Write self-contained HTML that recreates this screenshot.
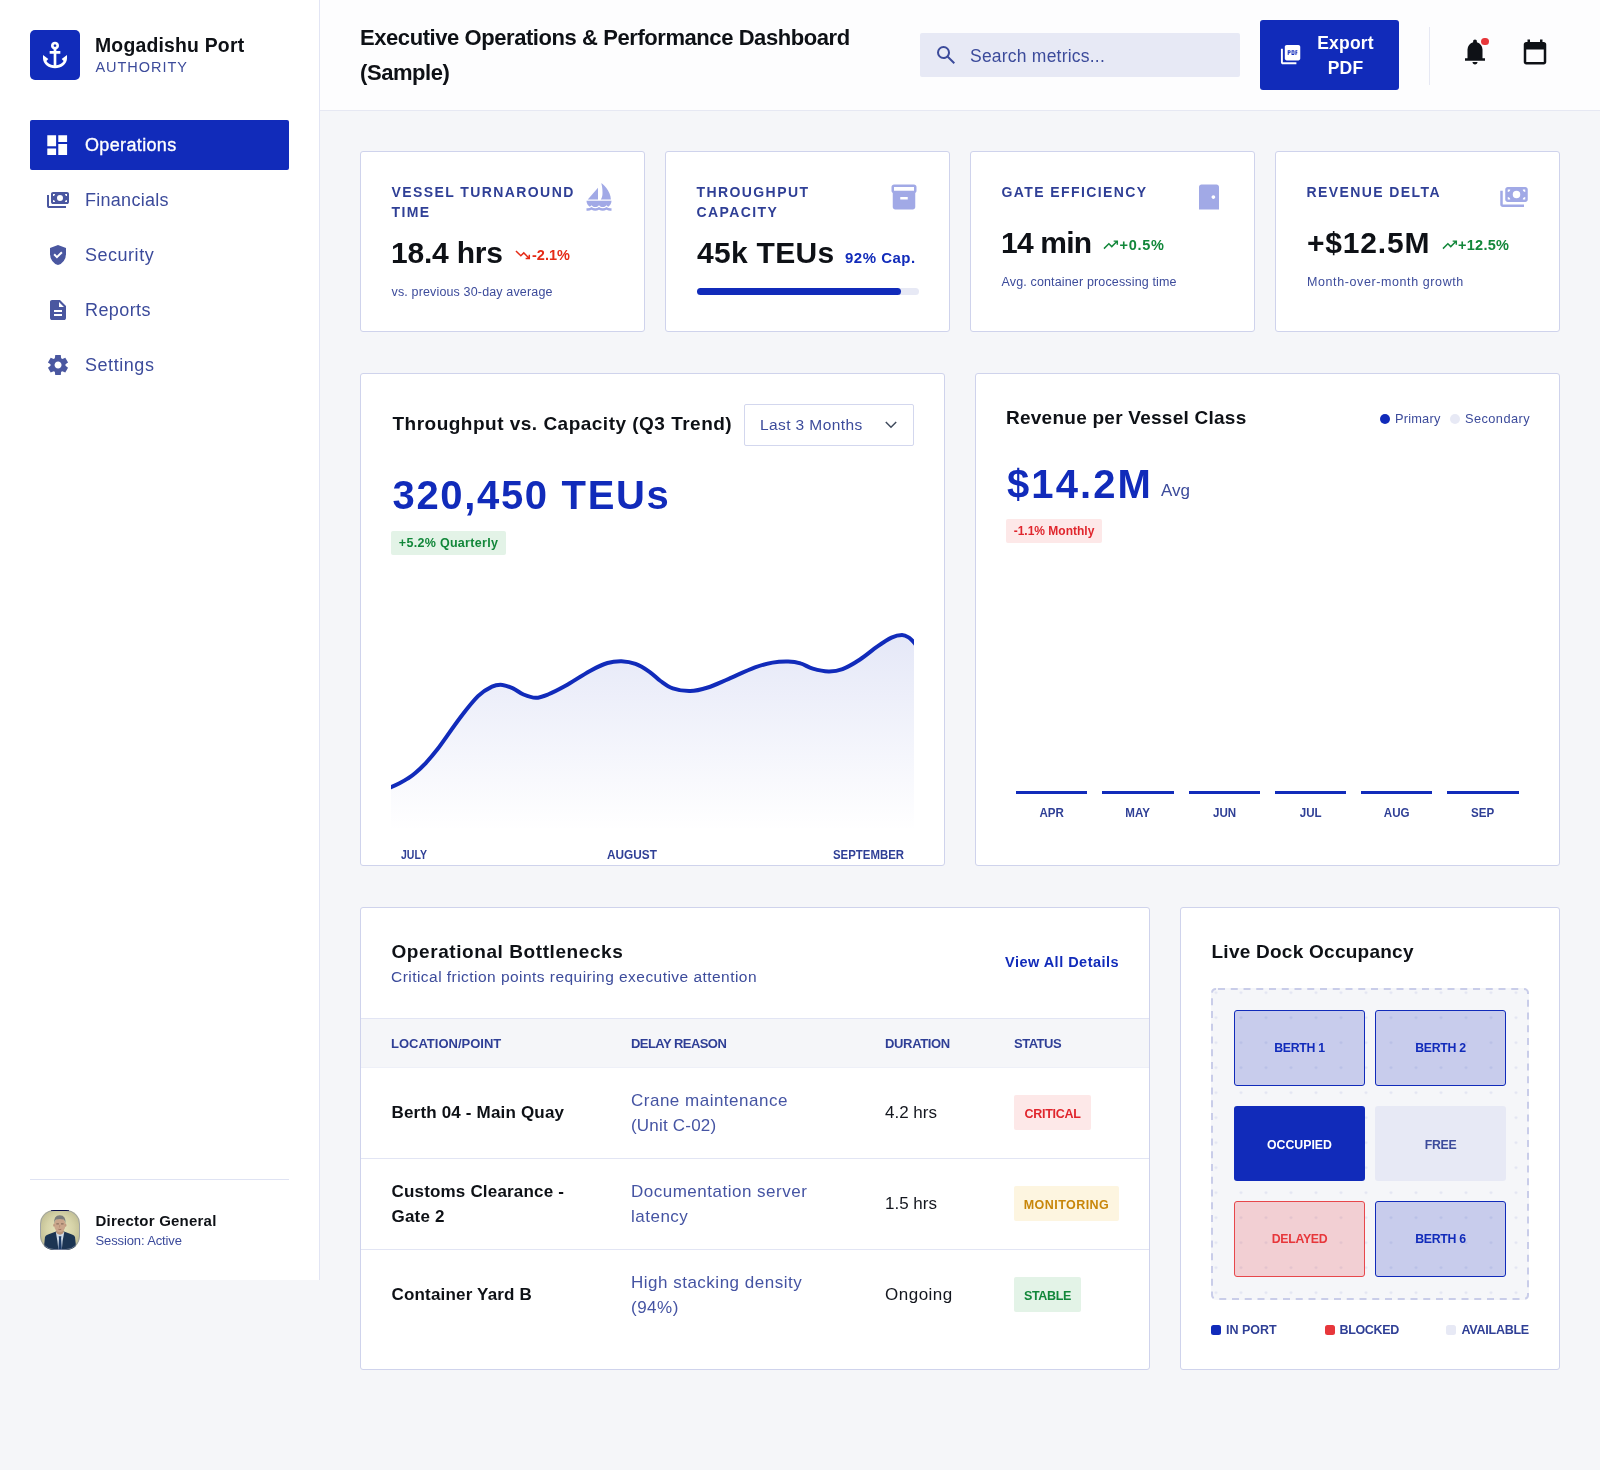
<!DOCTYPE html>
<html lang="en">
<head>
<meta charset="utf-8">
<title>Executive Operations &amp; Performance Dashboard</title>
<style>
*{box-sizing:border-box;margin:0;padding:0}
html,body{width:1600px;height:1470px;overflow:hidden}
html{background:#f5f6f9}
body{opacity:.9999}
body{font-family:"Liberation Sans",sans-serif;background:#f5f6f9;color:#0e1116;position:relative}
.abs{position:absolute}
/* sidebar */
#side{position:absolute;left:0;top:0;width:320px;height:1280px;background:#fff;border-right:1px solid #e2e5f4}
#logo{position:absolute;left:30px;top:30px;width:50px;height:50px;background:#112bba;border-radius:5px}
#brand{position:absolute;left:95px;top:33px;font-weight:700;font-size:19.4px;line-height:24px;color:#0e1116;letter-spacing:.2px;white-space:nowrap}
#brand2{position:absolute;left:95.500px;top:58px;font-size:14.5px;line-height:18px;color:#3c4b9b;letter-spacing:.95px;white-space:nowrap}
.nav{position:absolute;left:30px;width:259px;height:50px;border-radius:2px;color:#3c4b9b;font-size:18px;line-height:50px;white-space:nowrap}
.nav span{position:absolute;left:55px;top:0;letter-spacing:.35px}
.nav.on span{-webkit-text-stroke:.35px #fff}
.nav svg{position:absolute;left:15.500px;top:13px;width:24px;height:24px;fill:#4a57a0}
.nav.on svg{left:14.300px;top:11.800px;width:26.400px;height:26.400px}
.nav.on{background:#112bba;color:#fff}
.nav.on svg{fill:#fff}
#sidehr{position:absolute;left:30px;top:1179px;width:259px;height:1px;background:#dfe3f3}
#avatar{position:absolute;left:40px;top:1210px;width:40px;height:40px;border-radius:14px;overflow:hidden}
#uname{position:absolute;left:95.500px;top:1211px;font-weight:700;font-size:15px;line-height:20px;color:#0e1116;white-space:nowrap;letter-spacing:.22px}
#usub{position:absolute;left:95.500px;top:1233px;font-size:13px;line-height:16px;color:#3c4b9b;white-space:nowrap;letter-spacing:-.12px}
/* header */
#head{position:absolute;left:320px;top:0;width:1280px;height:111px;background:#fdfdfe;border-bottom:1px solid #e6e8f3}
#title{position:absolute;left:40px;top:20px;font-weight:700;font-size:22px;line-height:35px;color:#0e1116;letter-spacing:-.43px;white-space:nowrap}
#search{position:absolute;left:600px;top:33px;width:320px;height:44px;background:#e7e9f5;border-radius:2px}
#search span{position:absolute;left:50px;top:.500px;line-height:44px;font-size:17.5px;color:#3c4b9b;letter-spacing:.22px;white-space:nowrap}
#export{position:absolute;left:940px;top:20px;width:138.500px;height:70px;background:#112bba;border-radius:3px;color:#fff;font-weight:700;font-size:17.5px;line-height:25px;text-align:center;letter-spacing:.2px}
#export div{position:absolute;left:46px;top:10.500px;width:79px}
#hsep{position:absolute;left:1109px;top:27px;width:1px;height:58px;background:#e6e8f3}
/* cards */
.card{position:absolute;background:#fff;border:1px solid #cfd3ec;border-radius:3px}
.kpi{top:151px;width:285px;height:181px}
.kpi>*{margin-top:1px}
.klabel{position:absolute;left:30.500px;top:29px;font-weight:700;font-size:14px;line-height:20px;color:#2f3f96;letter-spacing:1.410px;white-space:nowrap}
.kval{position:absolute;left:30px;font-weight:700;font-size:30px;line-height:36px;color:#0e1116;white-space:nowrap}
.kdelta{position:absolute;font-weight:700;font-size:14.5px;line-height:18px;white-space:nowrap}
.ksub{position:absolute;left:30.500px;font-size:12.5px;line-height:16px;color:#3c4b9b;white-space:nowrap;letter-spacing:.15px}
.kicon{position:absolute;left:222.800px;top:29.200px;width:30px;height:30px;fill:#a1a9e6}
.tr{position:absolute;width:17.500px;height:17.500px;margin:.25px}
.kpi>.tr{margin-top:1.250px}
.ctitle{position:absolute;font-weight:700;font-size:19px;line-height:24px;color:#0e1116;white-space:nowrap;letter-spacing:.25px}
.big{position:absolute;font-weight:700;color:#112bba;white-space:nowrap}
.pill{position:absolute;font-weight:700;font-size:12.5px;letter-spacing:.3px;line-height:24px;height:24px;border-radius:2px;white-space:nowrap;text-align:center}
.axis{position:absolute;font-size:13.5px;line-height:14px;transform-origin:0 50%;color:#2f3f96;font-weight:700;white-space:nowrap;text-align:center}
.lg{position:absolute;top:37.300px;font-size:12.8px;line-height:16px;color:#3c4b9b;white-space:nowrap;letter-spacing:.2px}
.th{position:absolute;top:126.600px;font-size:13px;font-weight:700;line-height:18px;color:#2f3f96;letter-spacing:0;white-space:nowrap}
.td1{position:absolute;left:30.500px;font-size:17px;font-weight:700;line-height:25px;color:#0e1116;white-space:nowrap;letter-spacing:.18px}
.td2{position:absolute;left:270px;font-size:17px;line-height:25px;color:#4554a3;white-space:nowrap;letter-spacing:.5px}
.td3{position:absolute;left:524px;font-size:17px;line-height:25px;color:#14171f;white-space:nowrap}
.st{position:absolute;left:653px;height:35px;line-height:38px;border-radius:2px;font-size:12.5px;font-weight:700;text-align:center;letter-spacing:.45px;white-space:nowrap}
.hr{position:absolute;left:0;width:788px;height:1px;background:#e2e5f4}
.cell{position:absolute;width:131px;height:76px;line-height:76px;text-align:center;font-size:12.3px;font-weight:700;border-radius:3px;white-space:nowrap;letter-spacing:-.28px}
.cell.bl{background:rgba(18,41,185,.2);border:1px solid #112bba;color:#112bba;line-height:75.200px}
.sq{position:absolute;top:417px;width:10px;height:10px;border-radius:2.500px}
.lgd{position:absolute;top:413px;font-size:12.5px;font-weight:700;line-height:18px;color:#2f3f96;white-space:nowrap;letter-spacing:0}
</style>
</head>
<body>

<div id="side">
  <div id="logo"><svg viewBox="0 0 24 24" style="position:absolute;left:9px;top:9px;width:32px;height:32px;fill:#fff"><path d="M12 22q-1.725 0-3.338-.6t-2.887-1.612Q4.5 18.775 3.75 17.4T3 14.5V12l4 3-1.45 1.45q.6 1.125 2.063 2.038T11 19.75V11H8V9h3V7.825q-.875-.325-1.438-1.087T9 5q0-1.25.875-2.125T12 2q1.25 0 2.125.875T15 5q0 .975-.563 1.738T13 7.825V9h3v2h-3v8.75q1.925-.35 3.388-1.263T18.45 16.45L17 15l4-3v2.5q0 1.525-.75 2.9t-2.025 2.388Q16.95 20.8 15.338 21.4T12 22Zm0-16q.425 0 .713-.288T13 5q0-.425-.288-.713T12 4q-.425 0-.713.288T11 5q0 .425.288.713T12 6Z"/></svg></div>
  <div id="brand">Mogadishu Port</div>
  <div id="brand2">AUTHORITY</div>

  <div class="nav on" style="top:120px"><svg viewBox="0 0 24 24"><path d="M13 9V3h8v6h-8ZM3 13V3h8v10H3Zm10 8V11h8v10h-8ZM3 21v-6h8v6H3Z"/></svg><span>Operations</span></div>
  <div class="nav" style="top:175px"><svg viewBox="0 0 24 24"><path fill-rule="evenodd" d="M7 4h14q.83 0 1.41.59T23 6v8q0 .83-.59 1.41T21 16H7q-.83 0-1.41-.59T5 14V6q0-.83.59-1.41T7 4Zm7 3a3 3 0 1 0 0 6a3 3 0 1 0 0-6ZM7 6v2q.83 0 1.41-.59T9 6H7Zm12 0q0 .83.59 1.41T21 8V6h-2ZM7 12v2h2q0-.83-.59-1.41T7 12Zm14 0q-.83 0-1.41.59T19 14h2v-2ZM1 7h2v11h17v2H3q-.83 0-1.41-.59T1 18V7Z"/></svg><span style="letter-spacing:.27px">Financials</span></div>
  <div class="nav" style="top:230px"><svg viewBox="0 0 24 24"><path d="m10.95 15.55 5.65-5.65-1.425-1.425L10.95 12.7l-2.1-2.1-1.425 1.425 3.525 3.525ZM12 22q-3.475-.875-5.738-3.988T4 11.1V5l8-3 8 3v6.1q0 3.8-2.263 6.913T12 22Z"/></svg><span style="letter-spacing:.52px">Security</span></div>
  <div class="nav" style="top:285px"><svg viewBox="0 0 24 24"><path d="M8 18h8v-2H8v2Zm0-4h8v-2H8v2Zm-2 8q-.825 0-1.413-.588T4 20V4q0-.825.588-1.413T6 2h8l6 6v12q0 .825-.588 1.413T18 22H6Zm7-13h5l-5-5v5Z"/></svg><span style="letter-spacing:.41px">Reports</span></div>
  <div class="nav" style="top:340px"><svg viewBox="0 0 24 24"><path d="m9.25 22-.4-3.2q-.325-.125-.613-.3t-.562-.375L4.7 19.375l-2.75-4.75 2.575-1.95Q4.5 12.5 4.5 12.338v-.675q0-.163.025-.338L1.95 9.375l2.75-4.75 2.975 1.25q.275-.2.575-.375t.6-.3l.4-3.2h5.5l.4 3.2q.325.125.613.3t.562.375l2.975-1.25 2.75 4.75-2.575 1.95q.025.175.025.338v.675q0 .163-.05.338l2.575 1.95-2.75 4.75-2.95-1.25q-.275.2-.575.375t-.6.3l-.4 3.2h-5.5Zm2.8-6.5q1.45 0 2.475-1.025T15.55 12q0-1.45-1.025-2.475T12.05 8.5q-1.475 0-2.488 1.025T8.55 12q0 1.45 1.013 2.475T12.05 15.5Z"/></svg><span style="letter-spacing:.55px">Settings</span></div>

  <div id="sidehr"></div>
  <div id="avatar"><svg viewBox="0 0 40 40" width="40" height="40" style="display:block">
<defs><radialGradient id="avb" cx="50%" cy="48%" r="62%"><stop offset="0" stop-color="#e9e7bf"/><stop offset=".55" stop-color="#d6d3a8"/><stop offset="1" stop-color="#b9b68c"/></radialGradient>
<filter id="avf" x="-10%" y="-10%" width="120%" height="120%"><feGaussianBlur stdDeviation=".45"/></filter></defs>
<rect width="40" height="40" fill="url(#avb)"/>
<g filter="url(#avf)">
<path d="M3.500 41 L5 27 Q5.500 25.300 8 24.600 L16 21.400 L24 21.400 L32 24.600 Q34.500 25.300 35 27 L36.500 41 Z" fill="#1f3552"/>
<path d="M15.800 22 L24.300 22 L22.600 31 L21.800 40 L18.400 40 L17.400 31 Z" fill="#cfdbe7"/>
<path d="M18.700 26.200 L21.400 26.200 L21.100 28.400 L21.900 40 L18.300 40 L19 28.400 Z" fill="#1c3b68"/>
<path d="M16.300 17 L16.300 23 Q20 26.500 23.500 23 L23.500 17 Z" fill="#b99378"/>
<ellipse cx="19.800" cy="15" rx="5.600" ry="7.300" fill="#caa68b"/>
<ellipse cx="14.100" cy="15.200" rx=".9" ry="1.600" fill="#c09a80"/><ellipse cx="25.500" cy="15.200" rx=".9" ry="1.600" fill="#c09a80"/>
<path d="M14.200 14 Q13.300 5.300 19.800 5.200 Q26.300 5.300 25.500 14 Q25 10.300 23.600 9.500 Q19.800 8.300 16 9.500 Q14.700 10.300 14.200 14 Z" fill="#7c7c7a"/>
<path d="M16.300 13.900h2.600M21 13.900h2.600" stroke="#5b4a40" stroke-width=".7" fill="none"/>
<path d="M18.400 19.300 Q19.800 19.900 21.300 19.300" stroke="#8e5f52" stroke-width=".7" fill="none"/>
<path d="M19.800 15 L19.500 17.500" stroke="#a98268" stroke-width=".6" fill="none"/>
</g>
<rect x=".5" y=".5" width="39" height="39" rx="13.500" fill="none" stroke="#8f96ad" stroke-opacity=".7"/>
<rect x="11" y="0" width="18" height="1" fill="#0a0f4a"/>
</svg></div>
  <div id="uname">Director General</div>
  <div id="usub">Session: Active</div>
</div>

<div id="head">
  <div id="title">Executive Operations &amp; Performance Dashboard<br>(Sample)</div>
  <div id="search"><svg viewBox="0 0 24 24" style="position:absolute;left:14px;top:10px;width:24px;height:24px;fill:#3c4b9b"><path d="m19.6 21-6.3-6.3q-.75.6-1.725.95T9.5 16q-2.725 0-4.612-1.888T3 9.5q0-2.725 1.888-4.612T9.5 3q2.725 0 4.613 1.888T16 9.5q0 1.1-.35 2.075T14.7 13.3l6.3 6.3-1.4 1.400ZM9.5 14q1.875 0 3.188-1.313T14 9.5q0-1.875-1.313-3.188T9.5 5Q7.625 5 6.313 6.313T5 9.5q0 1.875 1.313 3.188T9.5 14Z"/></svg><span>Search metrics...</span></div>
  <div id="export"><svg viewBox="0 0 24 24" style="position:absolute;left:18.900px;top:23.400px;width:23.200px;height:23.200px;fill:#fff"><path d="M8 18q-.83 0-1.41-.59T6 16V4q0-.83.59-1.41T8 2h12q.83 0 1.41.59T22 4v12q0 .83-.59 1.41T20 18H8ZM2 6h2v14h14v2H4q-.83 0-1.41-.59T2 20V6Z"/><g fill="#112bba"><path d="M9 12.5h1v-2h1q.42 0 .71-.29T12 9.5v-1q0-.42-.29-.71T11 7.500H9v5Zm1-3v-1h1v1h-1Zm3 3h2q.42 0 .71-.29T16 11.500v-3q0-.42-.29-.71T15 7.500h-2v5Zm1-1v-3h1v3h-1Zm3 1h1v-2h1v-1h-1v-1h1v-1h-2v5Z"/></g></svg><div>Export<br>PDF</div></div>
  <div id="hsep"></div>
  <svg viewBox="0 0 24 24" style="position:absolute;left:1140px;top:36.5px;width:30px;height:30px;fill:#0e1116"><path d="M4 19v-2h2v-7q0-2.075 1.25-3.688T10.500 4.200V3.500q0-.625.438-1.063T12 2q.625 0 1.063.438T13.500 3.500v.700q2 .500 3.250 2.113T18 10v7h2v2H4Zm8 3q-.825 0-1.413-.588T10 20h4q0 .825-.588 1.413T12 22Z"/></svg>
  <div style="position:absolute;left:1161.300px;top:37.700px;width:7.400px;height:7.400px;border-radius:50%;background:#e7373b"></div>
  <svg viewBox="0 0 24 24" style="position:absolute;left:1200px;top:36.5px;width:30px;height:30px;fill:#0e1116"><path d="M5 22q-.825 0-1.413-.588T3 20V6q0-.825.588-1.413T5 4h1V2h2v2h8V2h2v2h1q.825 0 1.413.588T21 6v14q0 .825-.588 1.413T19 22H5Zm0-2h14V10H5v10Z"/></svg>
</div>

<!-- KPI cards -->
<div class="card kpi" id="k1" style="left:360px">
  <div class="klabel">VESSEL TURNAROUND<br>TIME</div><svg class="kicon" viewBox="0 0 24 24"><path d="M11.200 14V4.500L3 14h8.200ZM21.500 14C21.500 7 14.500 1 13.800 1c.4 1 1 4 1 7.500s-1 5.500-1.800 5.500h8.500ZM22 15H2c0 1.900 1 3.700 2.500 4.800.5-.3 1-.7 1.500-1.300.8 1 1.900 1.500 3 1.500s2.200-.5 3-1.500c.8 1 1.900 1.500 3 1.500s2.200-.5 3-1.500c.5.600 1 1 1.500 1.300C21 18.700 22 16.900 22 15ZM22 23v-2h-1c-1 0-2.100-.350-3-1-1.800 1.300-4.200 1.300-6 0-1.800 1.300-4.200 1.300-6 0-.900.650-2 1-3 1H2v2h1c1 0 2-.250 3-.750 1.900 1 4.100 1 6 0 1.900 1 4.100 1 6 0 1 .500 2 .750 3 .750h1Z"/></svg>
  <div class="kval" style="top:82px;letter-spacing:-.2px">18.4 hrs</div>
  <svg class="tr" viewBox="0 0 24 24" style="left:152.700px;top:92.500px;fill:#e52b16"><path d="M16 18v-2h2.600l-5.200-5.150-4 4L2 7.400 3.400 6l6 6 4-4 6.600 6.600V12h2v6h-6Z"/></svg><div class="kdelta" style="left:171px;top:93px;color:#e52b16">-2.1%</div>
  <div class="ksub" style="top:131px">vs. previous 30-day average</div>
</div>
<div class="card kpi" id="k2" style="left:665px">
  <div class="klabel">THROUGHPUT<br>CAPACITY</div><svg class="kicon" viewBox="0 0 24 24"><path fill-rule="evenodd" d="M5 22q-.825 0-1.413-.588T3 20V8.725q-.45-.275-.725-.712T2 7V4q0-.825.588-1.413T4 2h16q.825 0 1.413.588T22 4v3q0 .575-.275 1.013T21 8.725V20q0 .825-.588 1.413T19 22H5ZM4 7h16V4H4v3Zm5 7h6v-2H9v2Z"/></svg>
  <div class="kval" style="top:82px;left:31px;letter-spacing:.3px">45k TEUs</div>
  <div class="kdelta" id="cap" style="left:179px;top:96px;color:#112bba;font-size:15px;letter-spacing:.5px">92% Cap.</div>
  <div style="position:absolute;left:31px;top:135px;width:222px;height:7px;border-radius:4px;background:#e7e9f5"><div style="width:204px;height:7px;border-radius:4px;background:#112bba"></div></div>
</div>
<div class="card kpi" id="k3" style="left:970px">
  <div class="klabel">GATE EFFICIENCY</div><svg class="kicon" viewBox="0 0 24 24"><path fill-rule="evenodd" d="M18 2H6c-1.100 0-2 .900-2 2v18h16V4c0-1.100-.900-2-2-2Zm-2.500 11.500c-.830 0-1.500-.670-1.500-1.500s.670-1.500 1.500-1.500 1.500.670 1.500 1.500-.670 1.500-1.500 1.500Z"/></svg>
  <div class="kval" style="top:72px;letter-spacing:-.8px">14 min</div>
  <svg class="tr" viewBox="0 0 24 24" style="left:130.300px;top:83.200px;fill:#12873a"><path d="m3.4 18-1.4-1.4 7.4-7.45 4 4L18.600 8H16V6h6v6h-2V9.400L13.400 16l-4-4-6 6Z"/></svg><div class="kdelta" style="left:148.500px;top:83px;color:#12873a;letter-spacing:.75px">+0.5%</div>
  <div class="ksub" style="top:121px">Avg. container processing time</div>
</div>
<div class="card kpi" id="k4" style="left:1275px">
  <div class="klabel">REVENUE DELTA</div><svg class="kicon" viewBox="0 0 24 24"><path fill-rule="evenodd" d="M7 4h14q.83 0 1.41.59T23 6v8q0 .83-.59 1.41T21 16H7q-.83 0-1.41-.59T5 14V6q0-.83.59-1.41T7 4Zm7 3a3 3 0 1 0 0 6a3 3 0 1 0 0-6ZM7 6v2q.83 0 1.41-.59T9 6H7Zm12 0q0 .83.59 1.41T21 8V6h-2ZM7 12v2h2q0-.83-.59-1.41T7 12Zm14 0q-.83 0-1.41.59T19 14h2v-2ZM1 7h2v11h17v2H3q-.83 0-1.41-.59T1 18V7Z"/></svg>
  <div class="kval" style="top:72px;left:31px;letter-spacing:.8px">+$12.5M</div>
  <svg class="tr" viewBox="0 0 24 24" style="left:164.500px;top:83.200px;fill:#12873a"><path d="m3.4 18-1.4-1.4 7.4-7.45 4 4L18.600 8H16V6h6v6h-2V9.400L13.400 16l-4-4-6 6Z"/></svg><div class="kdelta" style="left:182px;top:83px;color:#12873a;letter-spacing:.27px">+12.5%</div>
  <div class="ksub" style="top:121px;left:31px;letter-spacing:.600px">Month-over-month growth</div>
</div>

<!-- chart cards -->
<div class="card" id="c1" style="left:360px;top:373px;width:585px;height:493px">
  <div class="ctitle" id="c1t" style="left:31.500px;top:38px;letter-spacing:.49px">Throughput vs. Capacity (Q3 Trend)</div>
  <div id="dd" style="position:absolute;left:383px;top:30px;width:170px;height:42px;border:1px solid #d3d7ee;border-radius:2px;background:#fff">
    <span id="ddt" style="position:absolute;left:15px;top:0;line-height:40px;font-size:15.5px;color:#3c4b9b;letter-spacing:.4px;white-space:nowrap">Last 3 Months</span>
    <svg viewBox="0 0 12 8" style="position:absolute;left:140.300px;top:16.400px;width:12px;height:8px;fill:none;stroke:#3f4a5c;stroke-width:1.500"><path d="M.800 1 6 6.200 11.200 1"/></svg>
  </div>
  <div class="big" id="big1" style="left:31.500px;top:97px;font-size:40px;line-height:48px;letter-spacing:1.670px">320,450 TEUs</div>
  <div class="pill" id="p1" style="left:30px;top:157px;width:115px;background:#e3f3e7;color:#12873a">+5.2% Quarterly</div>
  <svg style="position:absolute;left:30px;top:226px;width:523px;height:240px;overflow:hidden" viewBox="0 0 523 240">
    <defs><linearGradient id="g1" x1="0" y1="0" x2="0" y2="1"><stop offset="0" stop-color="#112bba" stop-opacity=".11"/><stop offset="1" stop-color="#112bba" stop-opacity="0"/></linearGradient></defs>
    <path d="M-4.0,188.8 C-3.3,188.5 -2.1,188.1 0.0,187.2 C2.1,186.3 5.8,184.6 8.5,183.2 C11.2,181.8 13.9,180.4 16.5,178.7 C19.1,177.0 20.9,175.9 24.0,173.2 C27.1,170.6 31.2,166.9 35.0,162.8 C38.8,158.7 41.0,156.3 46.8,148.8 C52.5,141.2 62.8,126.0 69.5,117.2 C76.2,108.5 81.8,101.4 87.0,96.2 C92.2,91.1 96.9,88.5 101.0,86.6 C105.1,84.7 108.0,84.6 111.5,84.9 C115.0,85.2 118.5,86.8 122.0,88.4 C125.5,90.0 128.7,92.9 132.5,94.5 C136.3,96.1 140.7,97.8 144.8,97.8 C148.8,97.8 152.0,96.5 157.0,94.5 C162.0,92.5 167.5,89.7 174.5,85.8 C181.5,81.8 192.0,74.7 199.0,70.9 C206.0,67.1 211.2,64.6 216.5,63.0 C221.8,61.4 225.8,61.1 230.5,61.2 C235.2,61.4 239.8,62.1 244.5,63.9 C249.2,65.6 254.3,68.9 258.5,71.8 C262.7,74.6 265.6,78.2 269.5,81.0 C273.4,83.8 276.8,86.7 281.8,88.4 C286.7,90.1 293.4,91.1 299.2,91.0 C305.1,90.9 310.3,89.5 316.8,87.5 C323.2,85.5 329.9,82.1 337.8,78.8 C345.6,75.4 356.7,70.1 364.0,67.4 C371.3,64.7 376.0,63.6 381.5,62.6 C387.0,61.7 392.6,61.5 397.2,61.6 C401.9,61.7 405.4,62.2 409.5,63.4 C413.6,64.5 417.1,67.3 421.8,68.6 C426.4,69.9 432.5,71.3 437.5,71.4 C442.5,71.5 446.2,71.1 451.5,69.1 C456.8,67.1 463.2,63.3 469.0,59.5 C474.8,55.7 481.2,50.0 486.5,46.4 C491.8,42.7 496.4,39.5 500.5,37.6 C504.6,35.7 508.1,35.0 511.0,35.0 C513.9,35.0 516.0,36.4 518.0,37.6 C520.0,38.9 521.5,40.8 523.0,42.5 C524.5,44.2 526.3,47.1 527.0,48.0 L527,232 L-4,232 Z" fill="url(#g1)" stroke="none"/>
    <path d="M-4.0,188.8 C-3.3,188.5 -2.1,188.1 0.0,187.2 C2.1,186.3 5.8,184.6 8.5,183.2 C11.2,181.8 13.9,180.4 16.5,178.7 C19.1,177.0 20.9,175.9 24.0,173.2 C27.1,170.6 31.2,166.9 35.0,162.8 C38.8,158.7 41.0,156.3 46.8,148.8 C52.5,141.2 62.8,126.0 69.5,117.2 C76.2,108.5 81.8,101.4 87.0,96.2 C92.2,91.1 96.9,88.5 101.0,86.6 C105.1,84.7 108.0,84.6 111.5,84.9 C115.0,85.2 118.5,86.8 122.0,88.4 C125.5,90.0 128.7,92.9 132.5,94.5 C136.3,96.1 140.7,97.8 144.8,97.8 C148.8,97.8 152.0,96.5 157.0,94.5 C162.0,92.5 167.5,89.7 174.5,85.8 C181.5,81.8 192.0,74.7 199.0,70.9 C206.0,67.1 211.2,64.6 216.5,63.0 C221.8,61.4 225.8,61.1 230.5,61.2 C235.2,61.4 239.8,62.1 244.5,63.9 C249.2,65.6 254.3,68.9 258.5,71.8 C262.7,74.6 265.6,78.2 269.5,81.0 C273.4,83.8 276.8,86.7 281.8,88.4 C286.7,90.1 293.4,91.1 299.2,91.0 C305.1,90.9 310.3,89.5 316.8,87.5 C323.2,85.5 329.9,82.1 337.8,78.8 C345.6,75.4 356.7,70.1 364.0,67.4 C371.3,64.7 376.0,63.6 381.5,62.6 C387.0,61.7 392.6,61.5 397.2,61.6 C401.9,61.7 405.4,62.2 409.5,63.4 C413.6,64.5 417.1,67.3 421.8,68.6 C426.4,69.9 432.5,71.3 437.5,71.4 C442.5,71.5 446.2,71.1 451.5,69.1 C456.8,67.1 463.2,63.3 469.0,59.5 C474.8,55.7 481.2,50.0 486.5,46.4 C491.8,42.7 496.4,39.5 500.5,37.6 C504.6,35.7 508.1,35.0 511.0,35.0 C513.9,35.0 516.0,36.4 518.0,37.6 C520.0,38.9 521.5,40.8 523.0,42.5 C524.5,44.2 526.3,47.1 527.0,48.0" fill="none" stroke="#112bba" stroke-width="4" stroke-linejoin="round"/>
  </svg>
  <div class="axis" id="ax1" style="left:39.500px;top:473.500px;transform:scaleX(.78)">JULY</div>
  <div class="axis" id="ax2" style="left:245.500px;top:473.500px;transform:scaleX(.875)">AUGUST</div>
  <div class="axis" id="ax3" style="left:472px;top:473.500px;transform:scaleX(.845)">SEPTEMBER</div>
</div>
<div class="card" id="c2" style="left:975px;top:373px;width:585px;height:493px">
  <div class="ctitle" id="c2t" style="left:30px;top:32px">Revenue per Vessel Class</div>
  <div style="position:absolute;left:404px;top:40px;width:10px;height:10px;border-radius:50%;background:#112bba"></div>
  <div class="lg" id="lg1" style="left:419px">Primary</div>
  <div style="position:absolute;left:474px;top:40px;width:10px;height:10px;border-radius:50%;background:#e7e9f5"></div>
  <div class="lg" id="lg2" style="left:489px;letter-spacing:.42px">Secondary</div>
  <div class="big" id="big2" style="left:31px;top:86px;font-size:40px;line-height:48px;letter-spacing:2.100px">$14.2M</div>
  <div id="avg" style="position:absolute;left:185px;top:106px;font-size:17px;line-height:22px;color:#3c4b9b;white-space:nowrap">Avg</div>
  <div class="pill" id="p2" style="left:30px;top:145px;width:96px;font-size:12px;letter-spacing:0;background:#fde8e8;color:#e0262d">-1.1% Monthly</div>
  <div style="position:absolute;left:40.0px;top:416.600px;width:71.3px;height:3px;background:#112bba"></div><div class="axis" style="left:40.0px;top:432px;width:71.3px;font-size:13px;transform-origin:50% 50%;transform:scaleX(.89)">APR</div>
  <div style="position:absolute;left:126.3px;top:416.600px;width:71.3px;height:3px;background:#112bba"></div><div class="axis" style="left:126.3px;top:432px;width:71.3px;font-size:13px;transform-origin:50% 50%;transform:scaleX(.89)">MAY</div>
  <div style="position:absolute;left:212.5px;top:416.600px;width:71.3px;height:3px;background:#112bba"></div><div class="axis" style="left:212.5px;top:432px;width:71.3px;font-size:13px;transform-origin:50% 50%;transform:scaleX(.89)">JUN</div>
  <div style="position:absolute;left:298.8px;top:416.600px;width:71.3px;height:3px;background:#112bba"></div><div class="axis" style="left:298.8px;top:432px;width:71.3px;font-size:13px;transform-origin:50% 50%;transform:scaleX(.89)">JUL</div>
  <div style="position:absolute;left:385.1px;top:416.600px;width:71.3px;height:3px;background:#112bba"></div><div class="axis" style="left:385.1px;top:432px;width:71.3px;font-size:13px;transform-origin:50% 50%;transform:scaleX(.89)">AUG</div>
  <div style="position:absolute;left:471.3px;top:416.600px;width:71.3px;height:3px;background:#112bba"></div><div class="axis" style="left:471.3px;top:432px;width:71.3px;font-size:13px;transform-origin:50% 50%;transform:scaleX(.89)">SEP</div>
  
</div>

<!-- bottom -->
<div class="card" id="b1" style="left:360px;top:907px;width:790px;height:463px">
  <div class="ctitle" id="b1t" style="left:30.500px;top:31.600px;letter-spacing:.58px">Operational Bottlenecks</div>
  <div id="b1s" style="position:absolute;left:30px;top:59px;font-size:15.5px;line-height:20px;color:#3c4b9b;white-space:nowrap;letter-spacing:.46px">Critical friction points requiring executive attention</div>
  <div id="vad" style="position:absolute;left:644px;top:44px;font-size:14.5px;font-weight:700;line-height:20px;color:#112bba;white-space:nowrap;letter-spacing:.48px">View All Details</div>
  <div style="position:absolute;left:0;top:110px;width:788px;height:50px;background:#f5f6f9;border-top:1px solid #e2e5f4;border-bottom:1px solid #eef0f8"></div>
  <div class="th" id="th1" style="left:30px">LOCATION/POINT</div>
  <div class="th" id="th2" style="left:270px;letter-spacing:-.55px">DELAY REASON</div>
  <div class="th" id="th3" style="left:524px;letter-spacing:-.34px">DURATION</div>
  <div class="th" id="th4" style="left:653px;letter-spacing:-.5px">STATUS</div>

  <div class="td1" id="r1a" style="top:192px">Berth 04 - Main Quay</div>
  <div class="td2" id="r1b" style="top:180px">Crane maintenance<br><span style="letter-spacing:.2px">(Unit C-02)</span></div>
  <div class="td3" id="r1c" style="top:192px">4.2 hrs</div>
  <div class="st" id="s1" style="top:187px;width:77px;letter-spacing:-.28px;background:#fde8e8;color:#e0262d">CRITICAL</div>
  <div class="hr" style="top:250px"></div>

  <div class="td1" id="r2a" style="top:271px">Customs Clearance -<br>Gate 2</div>
  <div class="td2" id="r2b" style="top:271px">Documentation server<br>latency</div>
  <div class="td3" id="r2c" style="top:283px">1.5 hrs</div>
  <div class="st" id="s2" style="top:278px;width:105px;background:#fdf5e0;color:#c8860a">MONITORING</div>
  <div class="hr" style="top:341px"></div>

  <div class="td1" id="r3a" style="top:374px">Container Yard B</div>
  <div class="td2" id="r3b" style="top:362px">High stacking density<br>(94%)</div>
  <div class="td3" id="r3c" style="top:374px;letter-spacing:.5px">Ongoing</div>
  <div class="st" id="s3" style="top:369px;width:67px;letter-spacing:-.35px;background:#e3f3e7;color:#12873a">STABLE</div>
</div>
<div class="card" id="b2" style="left:1180px;top:907px;width:380px;height:463px">
  <div class="ctitle" id="b2t" style="left:30.500px;top:31.500px">Live Dock Occupancy</div>
  <div id="dock" style="position:absolute;left:30px;top:79.500px;width:318px;height:312px;border-radius:5px;background-color:#f5f6f9;background-image:radial-gradient(circle,#e3e5f2 1.100px,transparent 1.500px);background-size:25px 25px;background-position:-7.500px -7.800px"><svg width="318" height="312" style="position:absolute;left:0;top:0"><rect x="1" y="1" width="316" height="310" rx="4" fill="none" stroke="#c9cde9" stroke-width="2" stroke-dasharray="7 5.750" stroke-dashoffset="-2"/></svg></div>
  <div class="cell bl" style="left:53px;top:102px">BERTH 1</div>
  <div class="cell bl" style="left:194px;top:102px">BERTH 2</div>
  <div class="cell" style="left:53px;top:198px;height:75px;line-height:78.400px;background:#112bba;color:#fff;letter-spacing:0">OCCUPIED</div>
  <div class="cell" style="left:194px;top:198px;height:75px;line-height:78.400px;background:#e7e9f5;color:#3c4b9b">FREE</div>
  <div class="cell" style="left:53px;top:293px;background:rgba(231,55,59,.2);border:1px solid #e7474b;color:#e7373b;line-height:75.200px">DELAYED</div>
  <div class="cell bl" style="left:194px;top:293px">BERTH 6</div>
  <div class="sq" style="left:30px;background:#112bba"></div><div class="lgd" id="l1" style="left:45px">IN PORT</div>
  <div class="sq" style="left:144px;background:#e7373b"></div><div class="lgd" id="l2" style="left:158.500px;letter-spacing:-.34px">BLOCKED</div>
  <div class="sq" style="left:265px;background:#e7e9f5"></div><div class="lgd" id="l3" style="left:280.500px;letter-spacing:-.25px">AVAILABLE</div>
</div>

</body>
</html>
